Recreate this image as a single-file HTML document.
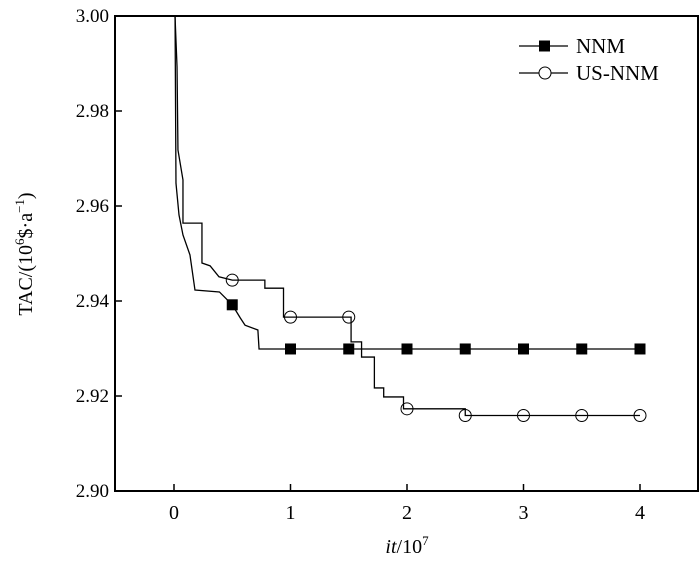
<!DOCTYPE html>
<html><head><meta charset="utf-8"><style>
body{margin:0;background:#fff}
svg{display:block}
text{font-family:"Liberation Serif","Times New Roman",serif}
</style></head><body>
<svg id="chart" width="700" height="562" viewBox="0 0 700 562"></svg>
<script>
const xTicks=[0,1,2,3,4];
const yTicks=[2.90,2.92,2.94,2.96,2.98,3.00];
const yTickLabels=["2.90","2.92","2.94","2.96","2.98","3.00"];
const markerX=[0.5,1,1.5,2,2.5,3,3.5,4];
const nnmIt=[0.009,0.017,0.043,0.077,0.137,0.18,0.39,0.5,0.57,0.61,0.72,0.73,4.0];
const nnmTac=[2.9998,2.9648,2.9581,2.9539,2.9497,2.9423,2.9419,2.9392,2.9364,2.9349,2.9339,2.9299,2.9299];
const usIt=[0.009,0.026,0.034,0.077,0.077,0.24,0.24,0.31,0.386,0.5,0.78,0.78,0.94,0.94,1.52,1.52,1.61,1.61,1.72,1.72,1.80,1.80,1.97,1.97,2.5,2.5,4.0];
const usTac=[2.9998,2.9893,2.9718,2.9655,2.9564,2.9564,2.948,2.9474,2.9451,2.9444,2.9444,2.9427,2.9427,2.9366,2.9366,2.9314,2.9314,2.9282,2.9282,2.9217,2.9217,2.9198,2.9198,2.9173,2.9173,2.9159,2.9159];

const L=115,R=698,T=16,B=491;
const xs=v=>174+116.5*v;
const ys=v=>B-(v-2.90)*4750;
const svg=document.getElementById('chart');
const NS='http://www.w3.org/2000/svg';
function mk(tag,attrs,parent){const e=document.createElementNS(NS,tag);for(const k in attrs)e.setAttribute(k,attrs[k]);(parent||svg).appendChild(e);return e;}
function interp(X,Y,v){let r=Y[Y.length-1];for(let i=0;i<X.length-1;i++){if(v>=X[i]&&v<=X[i+1]){if(X[i+1]===X[i])return Y[i+1];r=Y[i]+(Y[i+1]-Y[i])*(v-X[i])/(X[i+1]-X[i]);if(v===X[i+1]&&i+2<X.length&&X[i+2]===v)continue;return r;}}return r;}

const frame=mk('rect',{x:L,y:T,width:R-L,height:B-T,fill:'none',stroke:'#000','stroke-width':2});



xTicks.forEach(v=>{
  const t=mk('line',{x1:xs(v),x2:xs(v),y1:B,y2:B-7,stroke:'#000','stroke-width':1.5});
  
  
  const lb=mk('text',{x:xs(v),y:B+28,'text-anchor':'middle','font-size':20});
  lb.textContent=String(v);
  
  
});
yTicks.forEach((v,i)=>{
  const t=mk('line',{x1:L,x2:L+7,y1:ys(v),y2:ys(v),stroke:'#000','stroke-width':1.5});
  
  
  const lb=mk('text',{x:L-6,y:ys(v)+6,'text-anchor':'end','font-size':19});
  lb.textContent=yTickLabels[i];
  
  
});

function series(X,Y,name,marker){
  const g=mk('g',{});
  
  
  const p=mk('polyline',{points:X.map((x,i)=>xs(x)+','+ys(Y[i])).join(' '),fill:'none',stroke:'#000','stroke-width':1.3},g);
  
  
  markerX.forEach(v=>{
    const yv=interp(X,Y,v);
    let m;
    if(marker==='square') m=mk('rect',{x:xs(v)-5.5,y:ys(yv)-5.5,width:11,height:11,fill:'#000'},g);
    else m=mk('circle',{cx:xs(v),cy:ys(yv),r:6,fill:'none',stroke:'#000','stroke-width':1},g);
    
    
  });
}
series(nnmIt,nnmTac,'nnm','square');
series(usIt,usTac,'us-nnm','circle');

const lg=mk('g',{});


[['NNM','square',46],['US-NNM','circle',73]].forEach(([n,m,y])=>{
  const l=mk('line',{x1:519,x2:568,y1:y,y2:y,stroke:'#000','stroke-width':1.3},lg);
  
  
  let s;
  if(m==='square') s=mk('rect',{x:539,y:y-5.5,width:11,height:11,fill:'#000'},lg);
  else s=mk('circle',{cx:545,cy:y,r:6,fill:'#fff',stroke:'#000','stroke-width':1},lg);
  
  
  const t=mk('text',{x:576,y:y+7,'font-size':21},lg);
  t.textContent=n;
  
  
});
</script>
<svg style="position:absolute;left:0;top:0" width="700" height="562">
<text x="407" y="553" text-anchor="middle" font-size="20"><tspan font-style="italic">it</tspan>/10<tspan dy="-8" font-size="13">7</tspan></text>
<text transform="translate(32,254) rotate(-90)" text-anchor="middle" font-size="20">TAC/(10<tspan dy="-8" font-size="13">6</tspan><tspan dy="8">$·a</tspan><tspan dy="-8" font-size="13">−1</tspan><tspan dy="8">)</tspan></text>
</svg>
</body></html>
